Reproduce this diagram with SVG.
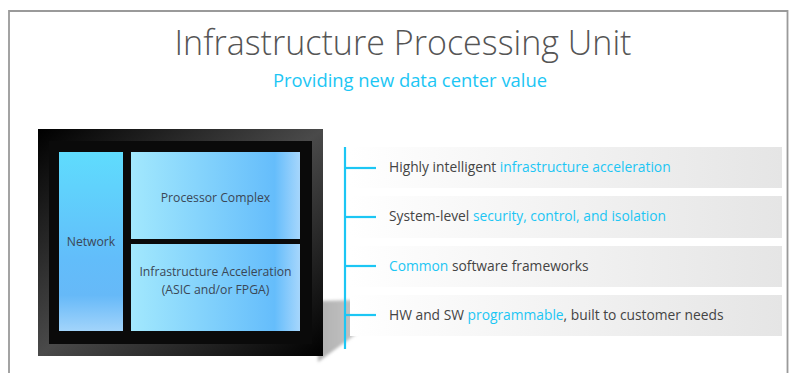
<svg xmlns="http://www.w3.org/2000/svg" width="794" height="373" viewBox="0 0 794 373">
<defs>
<linearGradient id="frameG" x1="0" y1="0" x2="1" y2="1">
<stop offset="0" stop-color="#000"/>
<stop offset="0.5" stop-color="#4a4a4a"/>
<stop offset="1" stop-color="#000"/>
</linearGradient>
<linearGradient id="netG" x1="0" y1="0" x2="0" y2="1">
<stop offset="0" stop-color="#5fdcfd"/>
<stop offset="0.6" stop-color="#62bdfa"/>
<stop offset="0.8" stop-color="#66b9f8"/>
<stop offset="1" stop-color="#a2d4fb"/>
</linearGradient>
<linearGradient id="boxG" x1="0" y1="0" x2="1" y2="0">
<stop offset="0" stop-color="#a2e8fd"/>
<stop offset="0.85" stop-color="#65bdfb"/>
<stop offset="1" stop-color="#a6d6fc"/>
</linearGradient>
<linearGradient id="barG" x1="0" y1="0" x2="1" y2="0">
<stop offset="0" stop-color="#ffffff"/>
<stop offset="1" stop-color="#e5e5e5"/>
</linearGradient>
<linearGradient id="shadowG" x1="0" y1="0" x2="1" y2="0">
<stop offset="0" stop-color="#b0b0b0"/>
<stop offset="0.6" stop-color="#c8c8c8"/>
<stop offset="1" stop-color="#ffffff" stop-opacity="0"/>
</linearGradient>
<filter id="blur" x="-20%" y="-20%" width="140%" height="140%"><feGaussianBlur stdDeviation="1.5"/></filter>
</defs>
<style>
.title{font-family:"Open Sans","Liberation Sans",sans-serif;font-weight:300;fill:#555;}
.sub{font-family:"Open Sans","Liberation Sans",sans-serif;fill:#1cc6f4;}
.chip{font-family:"Open Sans","Liberation Sans",sans-serif;font-size:12.2px;fill:#3b4756;text-anchor:middle;}
.item{font-family:"Open Sans","Liberation Sans",sans-serif;font-size:13.8px;fill:#444;}
.hl{fill:#1cc6f4;}
.cy{stroke:#1cc6f4;stroke-width:2.2;fill:none;}
</style>
<rect width="794" height="373" fill="#fff"/>
<path d="M9 373 V11 H787.5 V373" fill="none" stroke="#9a9a9a" stroke-width="1.8"/>
<text class="title" x="403" y="55" font-size="34" text-anchor="middle" textLength="457" lengthAdjust="spacingAndGlyphs">Infrastructure Processing Unit</text>
<text class="sub" x="410" y="87" font-size="18" text-anchor="middle" textLength="274" lengthAdjust="spacingAndGlyphs">Providing new data center value</text>

<g id="shadow">
<polygon points="316,301 404,299 318,362" fill="url(#shadowG)" filter="url(#blur)"/>
</g>
<g id="chip">
<rect x="38" y="129" width="285" height="227" fill="url(#frameG)"/>
<rect x="49" y="141" width="263" height="203" fill="#0a0a0a"/>
</g>
<g id="network">
<rect x="59" y="152" width="64" height="179" fill="url(#netG)"/>
<text class="chip" x="91" y="246">Network</text>
</g>
<g id="processor">
<rect x="131" y="152" width="169" height="87" fill="url(#boxG)"/>
<text class="chip" x="215.5" y="202">Processor Complex</text>
</g>
<g id="accel">
<rect x="131" y="244" width="169" height="87" fill="url(#boxG)"/>
<text class="chip" x="215.5" y="276">Infrastructure Acceleration</text>
<text class="chip" x="215.5" y="294">(ASIC and/or FPGA)</text>
</g>

<g id="bars">
<rect x="350" y="147" width="432" height="41" fill="url(#barG)"/>
<rect x="350" y="196" width="432" height="42" fill="url(#barG)"/>
<rect x="350" y="246" width="432" height="41" fill="url(#barG)"/>
<rect x="350" y="295" width="432" height="41" fill="url(#barG)"/>
</g>
<g id="connectors">
<line class="cy" x1="345" y1="147" x2="345" y2="349"/>
<line class="cy" x1="345" y1="168" x2="376" y2="168"/>
<line class="cy" x1="345" y1="217" x2="376" y2="217"/>
<line class="cy" x1="345" y1="266" x2="376" y2="266"/>
<line class="cy" x1="345" y1="315" x2="376" y2="315"/>
</g>
<g id="item1"><text class="item" x="389" y="172">Highly intelligent <tspan class="hl">infrastructure acceleration</tspan></text></g>
<g id="item2"><text class="item" x="389" y="221">System-level <tspan class="hl">security, control, and isolation</tspan></text></g>
<g id="item3"><text class="item" x="389" y="271"><tspan class="hl">Common</tspan> software frameworks</text></g>
<g id="item4"><text class="item" x="389" y="320">HW and SW <tspan class="hl">programmable</tspan>, built to customer needs</text></g>
</svg>
